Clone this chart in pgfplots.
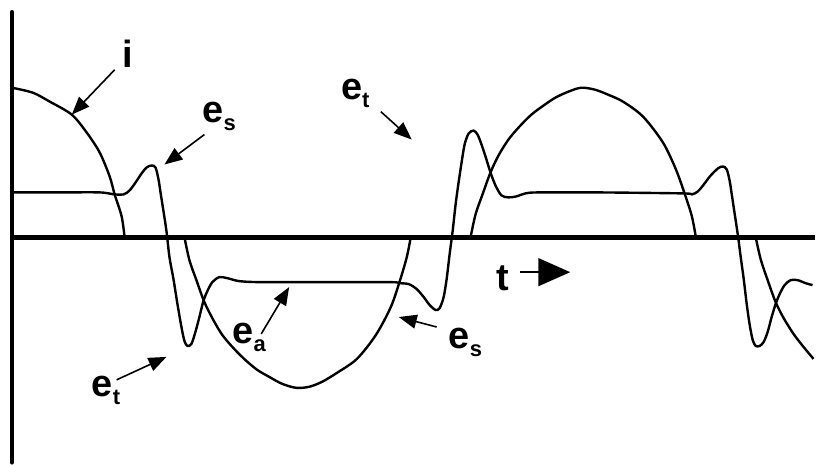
\documentclass[border=0pt]{standalone}
\usepackage{fontspec}
\setmainfont{Liberation Sans}
\usepackage{pgfplots}
\pgfplotsset{compat=1.18}
\usetikzlibrary{arrows.meta}
\newcommand{\lab}[2]{\fontsize{38}{40}\selectfont\bfseries #1\raisebox{-8pt}{\fontsize{22}{24}\selectfont\bfseries #2}}
\begin{document}
\begin{tikzpicture}
\begin{axis}[width=817pt,height=464pt,scale only axis,
  xmin=-12,xmax=805,ymin=-226,ymax=238,
  axis lines=none, clip=false]
\path (rel axis cs:0,0) rectangle (rel axis cs:1,1);
% axes
\addplot[black,line width=4pt,line cap=round] coordinates {(0,226) (0,-226)};
\addplot[black,line width=5pt] coordinates {(0,0) (805,0)};
% current i (arcs)
\addplot[black,line width=2.4pt,smooth,tension=0.5] coordinates {
(0,150) (21,145) (38,136) (60,123) (75,105) (88,85) (98,61) (103,43) (110,21) (113,0)};
\addplot[black,line width=2.4pt,smooth,tension=0.5] coordinates {
(173,0) (178,-23) (185,-43) (193,-65) (202,-83) (211,-98) (222,-111) (234,-123) (246,-133) (258,-140) (271,-147) (285,-151) (298,-150) (311,-145) (326,-136) (346,-122) (365,-98) (380,-70) (389,-44) (396,-20) (400,0)};
\addplot[black,line width=2.4pt,smooth,tension=0.5] coordinates {
(460,0) (465,23) (472,43) (480,65) (488,82) (498,98) (509,111) (521,123) (533,132) (545,140) (558,146) (571,150) (585,148) (598,143) (613,136) (633,121) (653,95) (666,68) (675,43) (682,21) (686,0)};
\addplot[black,line width=2.4pt,smooth,tension=0.5] coordinates {
(746,0) (751,-22) (758,-43) (766,-65) (774,-81) (784,-97) (794,-110) (804,-122)};
% terminal voltage e_t
\addplot[black,line width=2.4pt,smooth,tension=0.5] coordinates {
(0,45) (48,45) (88,45) (103,43) (112,43) (118,47) (124,55) (130,64) (135,70) (140,72) (144,70) (147,58) (149,45) (152,26) (155,6) (158,-20) (162,-42) (166,-67) (170,-90) (173,-104) (176,-109) (180,-107) (184,-95) (188,-80) (192,-64) (196,-54) (201,-45) (208,-40) (216,-41) (228,-44) (248,-45) (288,-45) (378,-45) (388,-46) (398,-47) (406,-52) (413,-60) (419,-68) (425,-73) (429,-71) (433,-60) (436,-42) (439,-17) (442,6) (445,33) (448,55) (451,75) (454,93) (458,104) (463,107) (467,103) (471,93) (475,81) (480,65) (485,52) (491,42) (498,40) (506,41) (515,44) (528,45) (588,45) (673,44) (682,43) (688,46) (694,53) (700,61) (708,69) (713,71) (717,68) (720,56) (722,43) (725,23) (728,3) (731,-20) (734,-42) (737,-67) (740,-88) (743,-103) (746,-109) (750,-109) (754,-105) (758,-95) (762,-80) (766,-67) (770,-57) (775,-48) (781,-43) (788,-43) (796,-46) (803,-48)};
% labels
\node[anchor=base west,inner sep=0pt] at (axis cs:111,170) {\fontsize{38}{40}\selectfont\bfseries i};
\node[anchor=base west,inner sep=0pt] at (axis cs:191,115) {\lab{e}{s}};
\node[anchor=base west,inner sep=0pt] at (axis cs:330,138) {\lab{e}{t}};
\node[anchor=base west,inner sep=0pt] at (axis cs:221,-107) {\lab{e}{a}};
\node[anchor=base west,inner sep=0pt] at (axis cs:438,-112) {\lab{e}{s}};
\node[anchor=base west,inner sep=0pt] at (axis cs:80,-160) {\lab{e}{t}};
\node[anchor=base west,inner sep=0pt] at (axis cs:486,-53) {\fontsize{38}{40}\selectfont\bfseries t};
% arrows
\begin{scope}[line width=1.6pt,-{Triangle[length=18pt,width=14pt]}]
\draw (axis cs:103,168) -- (axis cs:60,123);
\draw (axis cs:193,103) -- (axis cs:153,73);
\draw (axis cs:370,126) -- (axis cs:401,98);
\draw (axis cs:250,-97) -- (axis cs:278,-50);
\draw (axis cs:426,-90) -- (axis cs:388,-80);
\draw (axis cs:105,-143) -- (axis cs:155,-120);
\end{scope}
\draw[line width=1.6pt,-{Triangle[length=32pt,width=28pt]}] (axis cs:510,-35) -- (axis cs:560,-35);
\end{axis}
\end{tikzpicture}
\end{document}
